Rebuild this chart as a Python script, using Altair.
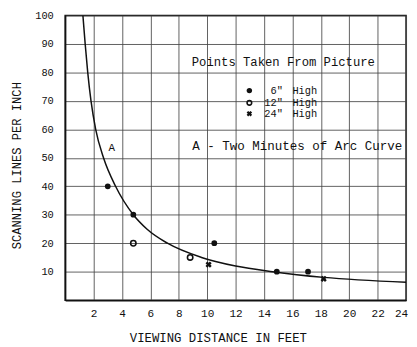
import altair as alt
import pandas as pd

# Two-minutes-of-arc curve
curve_x = [1.25, 1.41, 1.59, 1.82, 2.15, 2.70, 3.55, 4.80, 5.75, 7.20, 9.60, 12.0, 14.6, 18.2, 24.0]
curve_y = [100, 90, 80, 70, 60, 50, 40, 30, 25, 20, 15, 12, 10, 8, 6.3]

# Points
p6_x = [3.0, 4.8, 10.5, 14.9, 17.1]
p6_y = [40, 30, 20, 10, 10]
p12_x = [4.8, 8.8]
p12_y = [20, 15]
p24_x = [10.1, 18.2]
p24_y = [12.5, 7.5]

x_ticks = [2, 4, 6, 8, 10, 12, 14, 16, 18, 20, 22, 24]
y_ticks = [10, 20, 30, 40, 50, 60, 70, 80, 90, 100]

legend_title = "Points Taken From Picture"
legend_sizes = ['6"', '12"', '24"']
legend_word = "High"
curve_note = "A - Two Minutes of Arc Curve"
curve_label = "A"

FONT = "Liberation Mono"
INK = "#111111"

xs = alt.Scale(domain=[0, 24], nice=False)
ys = alt.Scale(domain=[0, 100], nice=False)

x_axis = alt.Axis(values=x_ticks, title="VIEWING DISTANCE IN FEET", grid=True, ticks=False,
                  labelOverlap=False, labelFlush=False, labelBound=False,
                  labelOffset={"expr": "datum.value == 24 ? -5 : 0"},
                  labelPadding=8, labelFontSize=11.2, titleFontSize=12.5, titleFontWeight="normal",
                  titleX=155, titleY=38, titleBaseline="middle", titleAnchor="start", titleAlign="center")
y_axis = alt.Axis(values=y_ticks, title="SCANNING LINES PER INCH", grid=True, ticks=False,
                  labelOverlap=False, labelFlush=False, labelBound=False,
                  labelPadding=12, labelFontSize=10.5, titleFontSize=12.3, titleFontWeight="normal",
                  titleX=-49, titleY=152, titleBaseline="middle", titleAlign="center", titleAngle=270)


def X():
    return alt.X("x:Q", scale=xs, axis=x_axis)


def Y():
    return alt.Y("y:Q", scale=ys, axis=y_axis)


curve_df = pd.DataFrame({"x": curve_x, "y": curve_y})
curve = alt.Chart(curve_df).mark_line(color=INK, strokeWidth=1.5, interpolate="monotone", clip=True).encode(
    x=X(), y=Y())

df6 = pd.DataFrame({"x": p6_x, "y": p6_y})
df12 = pd.DataFrame({"x": p12_x, "y": p12_y})
df24 = pd.DataFrame({"x": p24_x, "y": p24_y})

pts6 = alt.Chart(df6).mark_point(shape="circle", filled=True, color=INK, size=34, opacity=1).encode(x=X(), y=Y())
pts12 = alt.Chart(df12).mark_point(shape="circle", filled=False, color=INK, size=30, strokeWidth=1.6, opacity=1).encode(x=X(), y=Y())
pts24 = alt.Chart(df24).mark_point(shape="cross", angle=45, filled=True, color=INK, size=40, opacity=1).encode(x=X(), y=Y())

# legend block (text + sample symbols)
leg_x_sym = 12.97
leg_y_rows = [73.6, 69.3, 65.5]
leg_sym_df = pd.DataFrame({"x": [leg_x_sym] * 3, "y": leg_y_rows, "kind": ["6", "12", "24"]})
leg6 = alt.Chart(leg_sym_df[leg_sym_df.kind == "6"]).mark_point(shape="circle", filled=True, color=INK, size=30, opacity=1).encode(x=X(), y=Y())
leg12 = alt.Chart(leg_sym_df[leg_sym_df.kind == "12"]).mark_point(shape="circle", filled=False, color=INK, size=22, strokeWidth=1.6, opacity=1).encode(x=X(), y=Y())
leg24 = alt.Chart(leg_sym_df[leg_sym_df.kind == "24"]).mark_point(shape="cross", angle=45, filled=True, color=INK, size=32, opacity=1).encode(x=X(), y=Y())

size_df = pd.DataFrame({"x": [15.33] * 3, "y": leg_y_rows, "t": legend_sizes})
size_txt = alt.Chart(size_df).mark_text(font=FONT, fontSize=10.5, color=INK, align="right", baseline="middle").encode(
    x=X(), y=Y(), text="t:N")
high_df = pd.DataFrame({"x": [16.0] * 3, "y": leg_y_rows, "t": [legend_word] * 3})
high_txt = alt.Chart(high_df).mark_text(font=FONT, fontSize=10.5, color=INK, align="left", baseline="middle").encode(
    x=X(), y=Y(), text="t:N")

title_df = pd.DataFrame({"x": [15.36], "y": [83.5], "t": [legend_title]})
title_txt = alt.Chart(title_df).mark_text(font=FONT, fontSize=12.4, color=INK, align="center", baseline="middle").encode(
    x=X(), y=Y(), text="t:N")

note_df = pd.DataFrame({"x": [8.95], "y": [54.0], "t": [curve_note]})
note_txt = alt.Chart(note_df).mark_text(font=FONT, fontSize=12.7, color=INK, align="left", baseline="middle").encode(
    x=X(), y=Y(), text="t:N")

a_df = pd.DataFrame({"x": [3.28], "y": [53.3], "t": [curve_label]})
a_txt = alt.Chart(a_df).mark_text(font=FONT, fontSize=11, color=INK, align="center", baseline="middle").encode(
    x=X(), y=Y(), text="t:N")

chart = alt.layer(
    curve, pts6, pts12, pts24, leg6, leg12, leg24, size_txt, high_txt, title_txt, note_txt, a_txt
).properties(
    width=346, height=289,
    autosize=alt.AutoSizeParams(type="none"),
    padding={"left": 58, "top": 5, "right": 3, "bottom": 45},
    background="white",
).configure_view(
    stroke=INK, strokeWidth=1.5
).configure_axis(
    labelFont=FONT, titleFont=FONT, labelColor=INK, titleColor=INK,
    labelOverlap=False, labelFlush=False, labelBound=False,
    gridColor="#444444", gridWidth=1, gridOpacity=0.85,
    domainColor=INK, domainWidth=1.5,
)

chart.save("out.html", embed_options={"renderer": "svg", "actions": False})
